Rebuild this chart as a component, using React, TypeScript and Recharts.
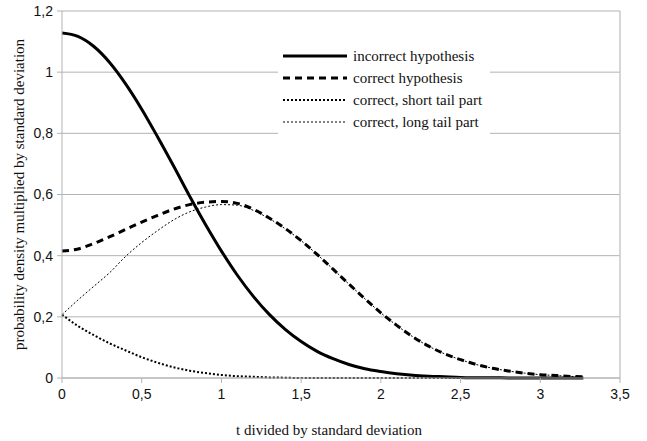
import { LineChart, Line, XAxis, YAxis, CartesianGrid, ReferenceLine } from "recharts";

const tValues = [0, 0.1, 0.2, 0.3, 0.4, 0.5, 0.6, 0.7, 0.8, 0.9, 1.0, 1.1, 1.2, 1.3, 1.4, 1.5, 1.6, 1.7, 1.8, 1.9, 2.0, 2.1, 2.2, 2.3, 2.4, 2.5, 2.6, 2.7, 2.8, 2.9, 3.0, 3.1, 3.2, 3.27];

const incorrect = [1.128, 1.117, 1.084, 1.031, 0.961, 0.879, 0.788, 0.693, 0.595, 0.502, 0.415, 0.336, 0.267, 0.208, 0.159, 0.119, 0.087, 0.063, 0.044, 0.03, 0.021, 0.014, 0.009, 0.006, 0.004, 0.002, 0.001, 0.001, 0, 0, 0, 0, 0, 0];

const correct = [0.415, 0.422, 0.44, 0.462, 0.486, 0.51, 0.532, 0.552, 0.567, 0.575, 0.577, 0.571, 0.552, 0.523, 0.489, 0.449, 0.404, 0.356, 0.307, 0.259, 0.213, 0.172, 0.135, 0.104, 0.079, 0.06, 0.044, 0.032, 0.023, 0.016, 0.011, 0.008, 0.005, 0.004];

const shortTail = [0.207, 0.17, 0.14, 0.113, 0.09, 0.068, 0.05, 0.035, 0.024, 0.016, 0.01, 0.006, 0.004, 0.002, 0.001, 0, 0, 0, 0, 0, 0, 0, 0, 0, 0, 0, 0, 0, 0, 0, 0, 0, 0, 0];

const longTail = [0.207, 0.255, 0.3, 0.345, 0.398, 0.443, 0.482, 0.517, 0.543, 0.559, 0.567, 0.565, 0.548, 0.521, 0.488, 0.449, 0.404, 0.356, 0.307, 0.259, 0.213, 0.172, 0.135, 0.104, 0.079, 0.06, 0.044, 0.032, 0.023, 0.016, 0.011, 0.008, 0.005, 0.004];

const xTicks = [0, 0.5, 1, 1.5, 2, 2.5, 3, 3.5];
const yTicks = [0, 0.2, 0.4, 0.6, 0.8, 1, 1.2];

const data = tValues.map((t, i) => ({
  t,
  incorrect: incorrect[i],
  correct: correct[i],
  shortTail: shortTail[i],
  longTail: longTail[i],
}));

const series = [
  { key: "incorrect", name: "incorrect hypothesis", width: 3, dash: undefined },
  { key: "correct", name: "correct hypothesis", width: 3, dash: "7 5" },
  { key: "shortTail", name: "correct, short tail part", width: 2, dash: "2 2" },
  { key: "longTail", name: "correct, long tail part", width: 1, dash: "2 2" },
];

const comma = (v: number) => String(v).replace(".", ",");
const serif = "'Times New Roman', 'Liberation Serif', 'DejaVu Serif', serif";
const sans = "'Liberation Sans', Arial, sans-serif";
const grid = "#b3b3b3";

// rotated y-axis title, centred on the plot height
const YTitle = (props: any) => {
  const { viewBox } = props;
  const cy = viewBox.y + viewBox.height / 2;
  return (
    <text x={19} y={cy} transform={`rotate(-90, 19, ${cy})`} textAnchor="middle" dominantBaseline="central" fill="#111" fontSize={15} fontFamily={serif}>
      probability density multiplied by standard deviation
    </text>
  );
};

export default function App() {
  return (
    <div style={{ position: "absolute", left: 0, top: 0, width: 647, height: 441, background: "#fff" }}>
      <LineChart width={647} height={441} data={data} margin={{ top: 11, right: 27, left: 0, bottom: 0 }}>
        <CartesianGrid vertical={false} stroke={grid} />
        <XAxis
          dataKey="t"
          type="number"
          domain={[0, 3.5]}
          ticks={xTicks}
          tickFormatter={comma}
          height={63}
          stroke={grid}
          tickSize={5}
          tickMargin={6}
          tick={{ fill: "#111", fontSize: 14, fontFamily: sans }}
          label={{ value: "t divided by standard deviation", position: "insideBottom", offset: 6, dx: -12, fill: "#111", fontSize: 15, fontFamily: serif }}
        />
        <YAxis
          type="number"
          domain={[0, 1.2]}
          ticks={yTicks}
          tickFormatter={comma}
          width={62}
          stroke={grid}
          tickSize={5}
          tickMargin={4}
          tick={{ fill: "#111", fontSize: 14, fontFamily: sans }}
          label={<YTitle />}
        />
        <ReferenceLine x={3.5} stroke="#c8c8c8" strokeWidth={1.5} />
        {series.map((s) => (
          <Line
            key={s.key}
            type="monotone"
            dataKey={s.key}
            name={s.name}
            stroke="#000"
            strokeWidth={s.width}
            strokeDasharray={s.dash}
            dot={false}
            isAnimationActive={false}
          />
        ))}
      </LineChart>
      <div
        style={{
          position: "absolute",
          left: 278,
          top: 43,
          width: 212,
          height: 94,
          background: "#fff",
          fontFamily: serif,
          fontSize: 15,
          color: "#111",
        }}
      >
        {series.map((s, i) => (
          <div key={s.key} style={{ position: "absolute", left: 5, top: 2 + i * 22, height: 22, display: "flex", alignItems: "center", whiteSpace: "nowrap" }}>
            <svg width={64} height={8} style={{ marginRight: 6 }}>
              <line x1={0} y1={4} x2={64} y2={4} stroke="#000" strokeWidth={s.width} strokeDasharray={s.dash} />
            </svg>
            <span>{s.name}</span>
          </div>
        ))}
      </div>
    </div>
  );
}
